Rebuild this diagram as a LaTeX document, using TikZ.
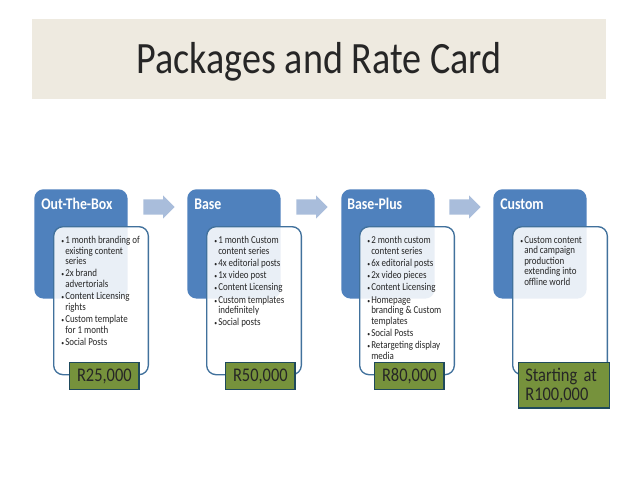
\documentclass[tikz,border=0pt]{standalone}
\usepackage{fontspec}
\setmainfont[FakeStretch=0.85]{Carlito}
\usepackage{xcolor}
\usetikzlibrary{shapes.arrows}
\usetikzlibrary{positioning}
\definecolor{bandcol}{HTML}{EEEAE0}
\definecolor{cardcol}{HTML}{4F81BD}
\definecolor{edgecol}{HTML}{41719C}
\definecolor{arrowcol}{HTML}{A9BDDB}
\definecolor{pricecol}{HTML}{76923C}
\definecolor{priceedge}{HTML}{1F4A5C}
\newcommand{\bul}{\llap{\tiny\textbullet\hspace{0.8pt}}}
\newcommand{\gap}{\\[1.3pt]}
\begin{document}
\begin{tikzpicture}[x=0.75pt,y=-0.75pt,
      card/.style={rectangle, rounded corners=7pt, fill=cardcol, minimum width=70pt,
      minimum height=82pt, anchor=north west, inner sep=5pt},
      cardtitle/.style={text=white, font=\fontsize{12.2}{13}\selectfont\bfseries, anchor=west, inner sep=0pt},
      detail/.style={rectangle, rounded corners=7pt, draw=edgecol, line width=1pt, fill=white,
      fill opacity=0.88, text opacity=1, minimum width=71pt, minimum height=111pt, anchor=north west},
      itemtext/.style={anchor=north west, inner sep=0pt, align=left, text=black!85,
      font=\fontsize{7.9}{7.9}\selectfont},
      nextarrow/.style={single arrow, fill=arrowcol, minimum height=23.5pt,
      single arrow head extend=3pt, inner sep=0pt, anchor=west},
      price/.style={rectangle, draw=priceedge, line width=1pt, fill=pricecol, minimum width=52pt,
      minimum height=20pt, anchor=north west, inner sep=0pt, text=black!85,
      font=\fontsize{14.5}{14.5}\selectfont}]
    \useasboundingbox (0,0) rectangle (638,479);
    \fill [white] (0,0) rectangle (638,479);
    \node [rectangle, fill=bandcol, minimum width=430.5pt, minimum height=60pt, anchor=north west,
      inner sep=0pt] (band) at (32,19) {};
    \node [font=\fontsize{33.6}{36}\selectfont, text=black!85] (title) at (319,62) {Packages and Rate Card};
    %% Cards
    \node [card] (outbox) at (34,189) {};
    \node [card] (base) at (187,189) {};
    \node [card] (plus) at (341,189) {};
    \node [card] (custom) at (493,189) {};
    \node [cardtitle] (outboxtitle) at (41,204) {Out-The-Box};
    \node [cardtitle] (basetitle) at (194,204) {Base};
    \node [cardtitle] (plustitle) at (347,204) {Base-Plus};
    \node [cardtitle] (customtitle) at (500,204) {Custom};
    %% Arrows
    \node [nextarrow] (arrow1) at (143,207) {\rule{0pt}{11pt}};
    \node [nextarrow] (arrow2) at (296,207) {\rule{0pt}{11pt}};
    \node [nextarrow] (arrow3) at (449,207) {\rule{0pt}{11pt}};
    %% Details
    \node [detail] (outboxdetail) at (53,226) {};
    \node [detail] (basedetail) at (206,226) {};
    \node [detail] (plusdetail) at (359,226) {};
    \node [detail] (customdetail) at (512,226) {};
    \node [itemtext] (outboxitems) at (65,236) {\bul 1 month branding of\\existing content\\series\gap
      \bul 2x brand\\advertorials\gap \bul Content Licensing\\rights\gap
      \bul Custom template\\for 1 month\gap \bul Social Posts};
    \node [itemtext] (baseitems) at (218,236) {\bul 1 month Custom\\content series\gap
      \bul 4x editorial posts\gap \bul 1x video post\gap \bul Content Licensing\gap
      \bul Custom templates\\indefinitely\gap \bul Social posts};
    \node [itemtext] (plusitems) at (371,236) {\bul 2 month custom\\content series\gap
      \bul 6x editorial posts\gap \bul 2x video pieces\gap \bul Content Licensing\gap
      \bul Homepage\\branding \& Custom\\templates\gap \bul Social Posts\gap
      \bul Retargeting display\\media};
    \node [itemtext] (customitems) at (524,236) {\bul Custom content\\and campaign\\production\\extending into\\offline world};
    %% Prices
    \node [price] (outboxprice) at (69,362) {R25,000};
    \node [price] (baseprice) at (225,362) {R50,000};
    \node [price] (plusprice) at (374,362) {R80,000};
    \node [price, minimum width=66pt, minimum height=34pt, align=left, text width=58pt, inner xsep=5pt]
      (customprice) at (518,362) {Starting at\\R100,000};
  \end{tikzpicture}
\end{document}
